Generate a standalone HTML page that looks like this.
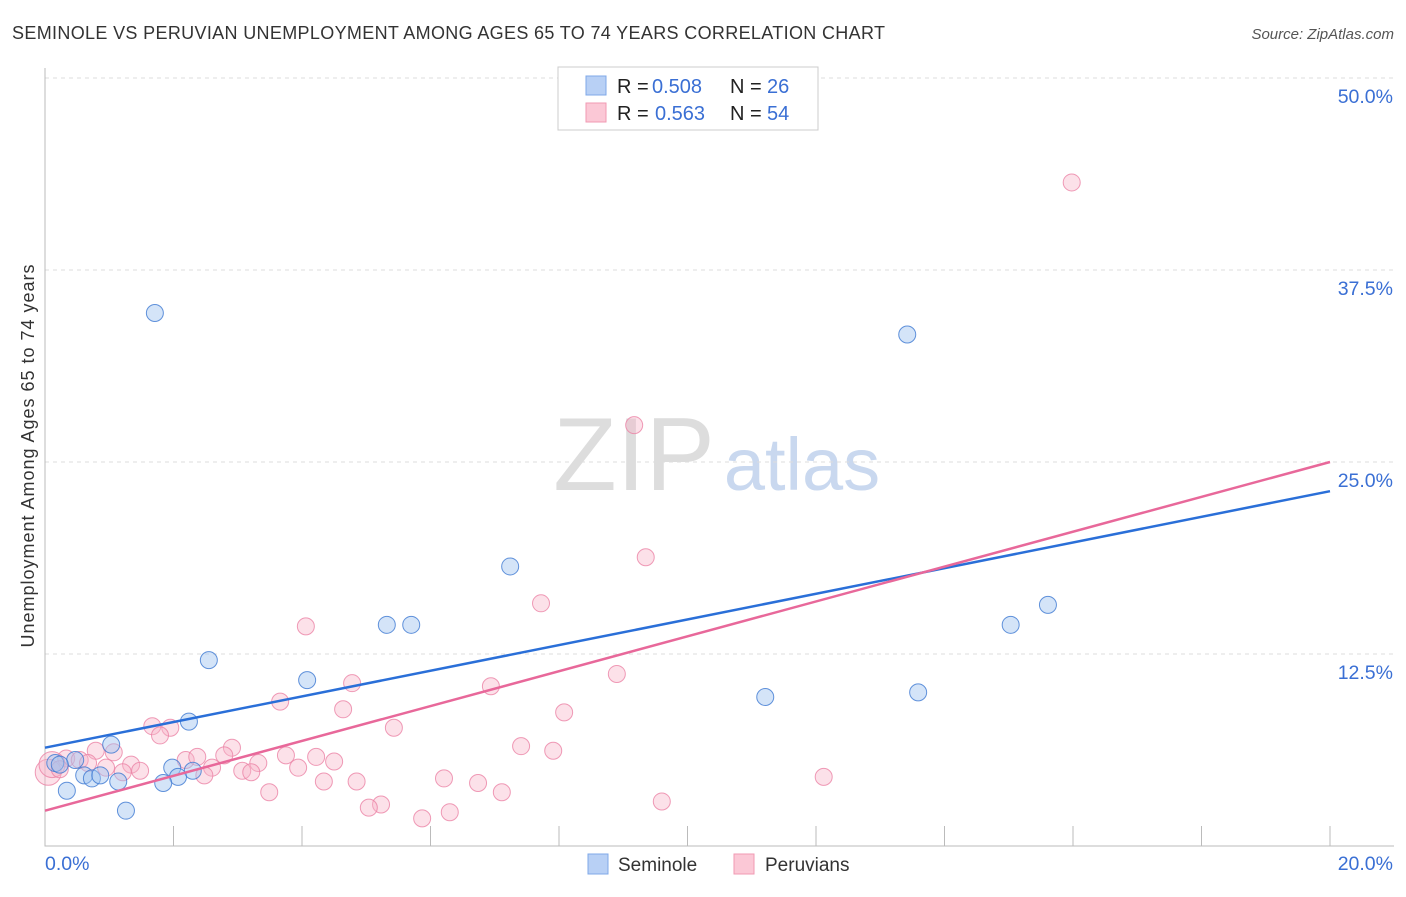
<!DOCTYPE html>
<html><head><meta charset="utf-8"><style>
body{margin:0;background:#fff;font-family:"Liberation Sans",sans-serif;}
svg text{font-family:"Liberation Sans",sans-serif;}
</style></head><body>
<svg id="chart" width="1406" height="892">
<text x="12" y="39" font-size="18" fill="#333" textLength="873">SEMINOLE VS PERUVIAN UNEMPLOYMENT AMONG AGES 65 TO 74 YEARS CORRELATION CHART</text>
<text x="1394" y="39" font-size="15" fill="#555" font-style="italic" text-anchor="end">Source: ZipAtlas.com</text>
<text x="34" y="456" font-size="18" fill="#333" text-anchor="middle" textLength="383" transform="rotate(-90 34 456)">Unemployment Among Ages 65 to 74 years</text>
<text x="634" y="490" font-size="104" fill="#ddd" font-family="Liberation Serif" text-anchor="middle">ZIP</text>
<text x="802" y="490" font-size="74" fill="#c9d8ef" text-anchor="middle">atlas</text>
<g id="grid"></g><g id="axes"></g><g id="pts"></g><g id="lines"></g>
<g>
<rect x="558" y="67" width="260" height="63" fill="#fff" stroke="#ccc"/>
<rect x="586" y="76" width="20" height="19" fill="#b8d0f5" stroke="#7fa8e8"/>
<rect x="586" y="103" width="20" height="19" fill="#fbc8d6" stroke="#f09ab3"/>
<text x="617" y="93" font-size="20" fill="#222">R =</text>
<text x="652" y="93" font-size="20" fill="#3a6fd4">0.508</text>
<text x="730" y="93" font-size="20" fill="#222">N =</text>
<text x="767" y="93" font-size="20" fill="#3a6fd4">26</text>
<text x="617" y="120" font-size="20" fill="#222">R =</text>
<text x="655" y="120" font-size="20" fill="#3a6fd4">0.563</text>
<text x="730" y="120" font-size="20" fill="#222">N =</text>
<text x="767" y="120" font-size="20" fill="#3a6fd4">54</text>
</g>
<g>
<rect x="588" y="854" width="20" height="20" fill="#b8d0f5" stroke="#7fa8e8"/>
<text x="618" y="871" font-size="19" fill="#333">Seminole</text>
<rect x="734" y="854" width="20" height="20" fill="#fbc8d6" stroke="#f09ab3"/>
<text x="765" y="871" font-size="19" fill="#333">Peruvians</text>
</g>
</svg>
<script>
const yTicks=[12.5,25,37.5,50];
const yTickLabels=["12.5%","25.0%","37.5%","50.0%"];
const xTickLabels=["0.0%","20.0%"];
const semX=[1.71,13.42,7.24,15.61,5.32,5.70,15.03,2.55,4.08,13.59,11.21,2.24,1.03,1.98,2.30,2.07,0.16,0.47,0.61,0.73,0.86,1.14,1.84,0.34,1.26,0.23];
const semY=[34.7,33.3,18.2,15.7,14.4,14.4,14.4,12.1,10.8,10.0,9.7,8.1,6.6,5.1,4.9,4.5,5.4,5.6,4.6,4.4,4.6,4.2,4.1,3.6,2.3,5.3];
const perX=[15.98,9.17,9.35,7.72,4.06,8.90,4.78,6.94,3.66,4.64,8.08,5.43,1.67,1.95,1.79,7.41,7.91,2.91,0.79,1.07,2.19,2.37,2.79,3.75,4.22,4.50,3.32,0.33,0.54,0.67,1.34,0.95,1.48,2.60,3.94,3.07,3.21,1.21,2.48,0.05,0.11,6.21,12.12,4.85,4.34,6.74,3.49,7.11,5.23,5.04,9.60,6.30,5.87,0.23];
const perY=[43.2,27.4,18.8,15.8,14.3,11.2,10.6,10.4,9.4,8.9,8.7,7.7,7.8,7.7,7.2,6.5,6.2,6.4,6.2,6.1,5.6,5.8,5.9,5.9,5.8,5.5,5.4,5.7,5.6,5.4,5.3,5.1,4.9,5.1,5.1,4.9,4.8,4.8,4.6,4.8,5.3,4.4,4.5,4.2,4.2,4.1,3.5,3.5,2.7,2.5,2.9,2.2,1.8,5.0];
const semTrend=[6.4,23.1];
const perTrend=[2.3,25.0];
const NS="http://www.w3.org/2000/svg";
const sx=v=>45+v/20*1285, sy=v=>846-v*15.36;
function mk(p,t,a){const e=document.createElementNS(NS,t);for(const k in a)e.setAttribute(k,a[k]);document.getElementById(p).appendChild(e);return e;}
yTicks.forEach((t,i)=>{
 const g=mk('grid','line',{x1:45,x2:1394,y1:sy(t),y2:sy(t),stroke:'#ddd','stroke-dasharray':'4,4'});
 
 
 const l=mk('grid','text',{x:1393,y:sy(t)+25,'font-size':19.5,fill:'#3a6fd4','text-anchor':'end'});
 l.textContent=yTickLabels[i];
 
 
});
const ax=mk('axes','path',{d:'M45,68V846H1394',stroke:'#bbb',fill:'none'});


for(let i=1;i<=10;i++){const t=mk('axes','line',{x1:sx(i*2),x2:sx(i*2),y1:826,y2:846,stroke:'#bbb'});
 
 }
[[0,'start',45],[20,'end',1393]].forEach((d,i)=>{const l=mk('axes','text',{x:d[2],y:870,'font-size':19.5,fill:'#3a6fd4','text-anchor':d[1]});l.textContent=xTickLabels[i];
 
 });
perX.forEach((x,i)=>{const c=mk('pts','circle',{cx:sx(x),cy:sy(perY[i]),r:i>=39&&i<=40?13:8.5,fill:'rgba(248,180,200,0.4)',stroke:'rgba(235,130,165,0.8)'});
 
 });
semX.forEach((x,i)=>{const c=mk('pts','circle',{cx:sx(x),cy:sy(semY[i]),r:8.5,fill:'rgba(160,195,240,0.45)',stroke:'rgba(60,120,210,0.8)'});
 
 });
const l1=mk('lines','line',{x1:sx(0),y1:sy(semTrend[0]),x2:sx(20),y2:sy(semTrend[1]),stroke:'#2a6fd8','stroke-width':2.5});


const l2=mk('lines','line',{x1:sx(0),y1:sy(perTrend[0]),x2:sx(20),y2:sy(perTrend[1]),stroke:'#e8689a','stroke-width':2.5});


</script>
</body></html>
